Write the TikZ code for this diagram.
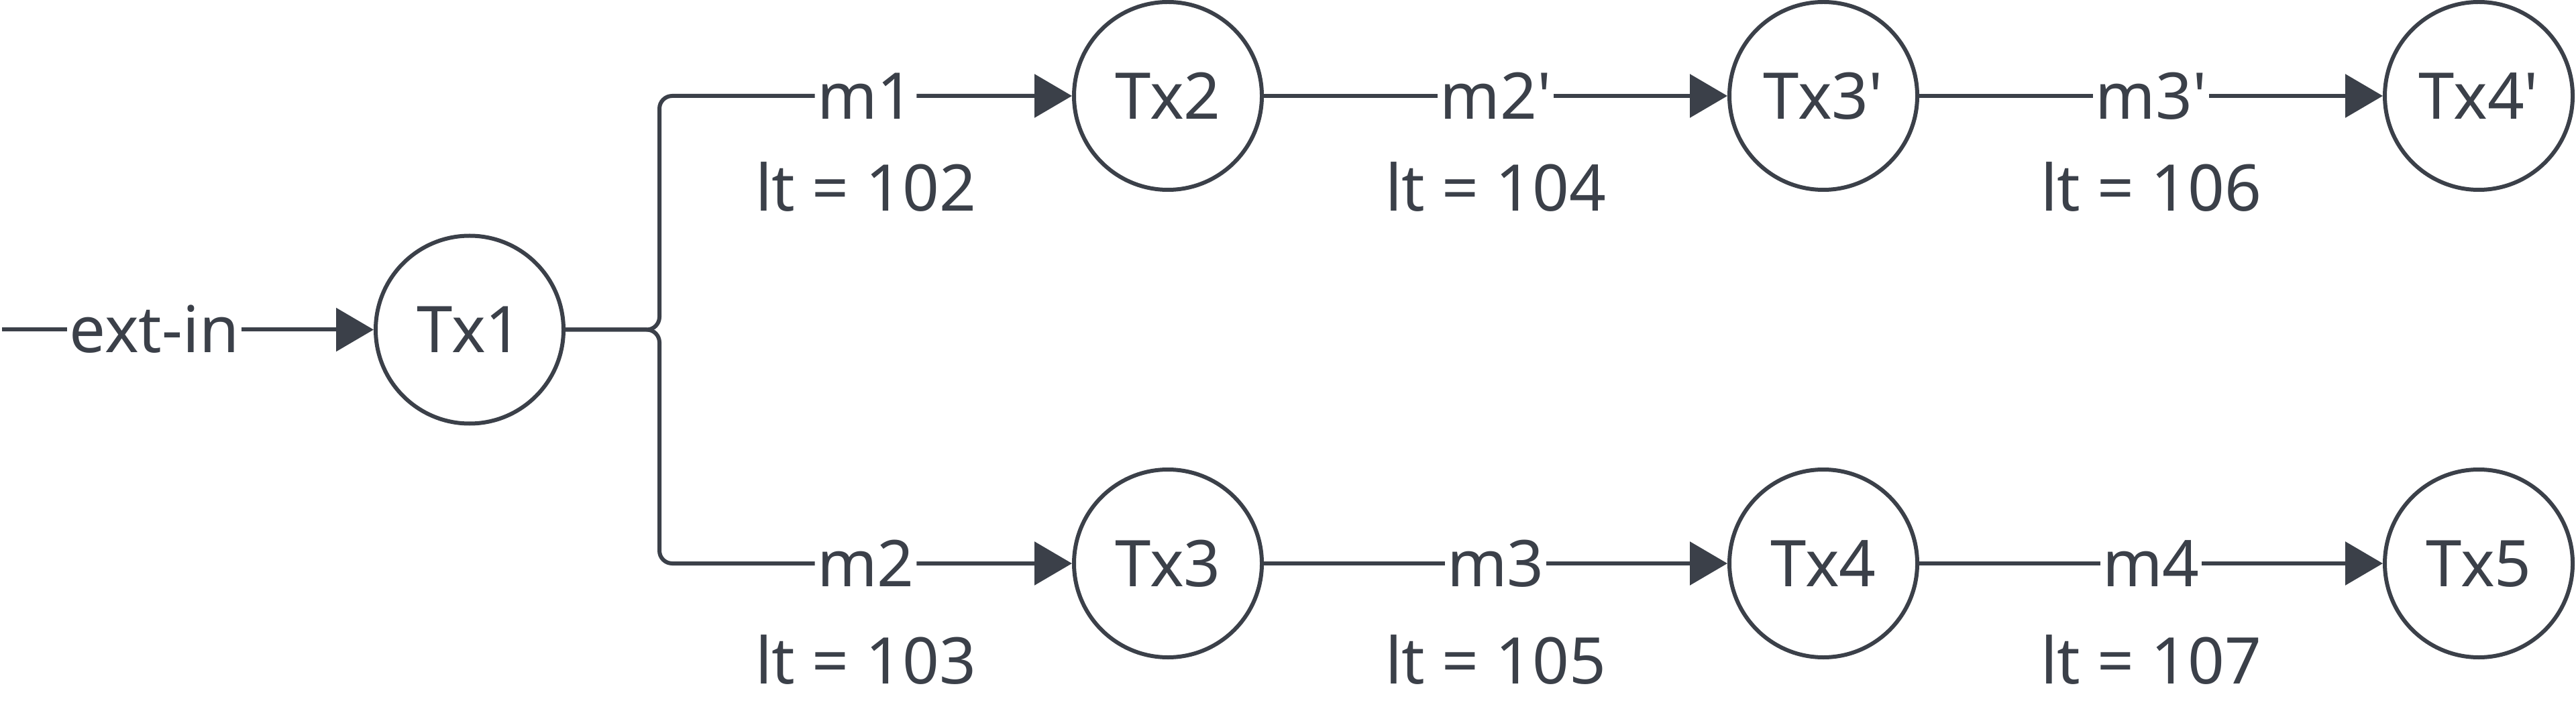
\documentclass[tikz,border=0pt]{standalone}
\usepackage{fontspec}
\setmainfont{Noto Sans}
\usetikzlibrary{arrows.meta}
\definecolor{ink}{RGB}{59,64,73}
\tikzstyle{state} = [circle, minimum size=2.8cm, inner sep=0pt, draw=ink, line width=0.06cm, text height=19.5pt, text depth=0pt]
\tikzstyle{arrow} = [draw=ink, line width=0.06cm, -{Triangle[length=0.56cm,width=0.64cm]}]
\tikzstyle{msg} = [fill=white, inner xsep=1pt, inner ysep=2pt, text height=19.5pt, text depth=0pt]
\tikzstyle{ltlabel} = [inner sep=0pt, text height=19.5pt, text depth=0pt]

\begin{document}
\begin{tikzpicture}[node distance=9.77cm, color=ink, font=\fontsize{27.3}{32}\selectfont]
\useasboundingbox (0,0) rectangle (38.4,10.59);

% Nodes
\node (tx1) [state] at (7,5.675) {Tx1};
\node (tx2) [state, right of=tx1, xshift=0.64cm, yshift=3.485cm] {Tx2};
\node (tx3) [state, right of=tx1, xshift=0.64cm, yshift=-3.485cm] {Tx3};
\node (tx3p) [state, right of=tx2] {Tx3\textquotesingle};
\node (tx4) [state, right of=tx3] {Tx4};
\node (tx4p) [state, right of=tx3p] {Tx4\textquotesingle};
\node (tx5) [state, right of=tx4] {Tx5};
\coordinate (extsrc) at (0.03,5.675);
\coordinate (fork) at (9.83,5.675);

% Arrows
\draw [arrow] (extsrc) -- node[msg, pos=0.41] {ext-in} (tx1);
\draw [arrow, rounded corners=0.19cm] (tx1) -- (fork) |- node[msg, pos=0.75] {m1} node[ltlabel, pos=0.75, yshift=-1.375cm] {lt = 102} (tx2);
\draw [arrow, rounded corners=0.19cm] (tx1) -- (fork) |- node[msg, pos=0.75] {m2} node[ltlabel, pos=0.75, yshift=-1.455cm] {lt = 103} (tx3);
\draw [arrow] (tx2) -- node[msg] {m2\textquotesingle} node[ltlabel, yshift=-1.375cm] {lt = 104} (tx3p);
\draw [arrow] (tx3p) -- node[msg] {m3\textquotesingle} node[ltlabel, yshift=-1.375cm] {lt = 106} (tx4p);
\draw [arrow] (tx3) -- node[msg] {m3} node[ltlabel, yshift=-1.455cm] {lt = 105} (tx4);
\draw [arrow] (tx4) -- node[msg] {m4} node[ltlabel, yshift=-1.455cm] {lt = 107} (tx5);

\end{tikzpicture}
\end{document}
